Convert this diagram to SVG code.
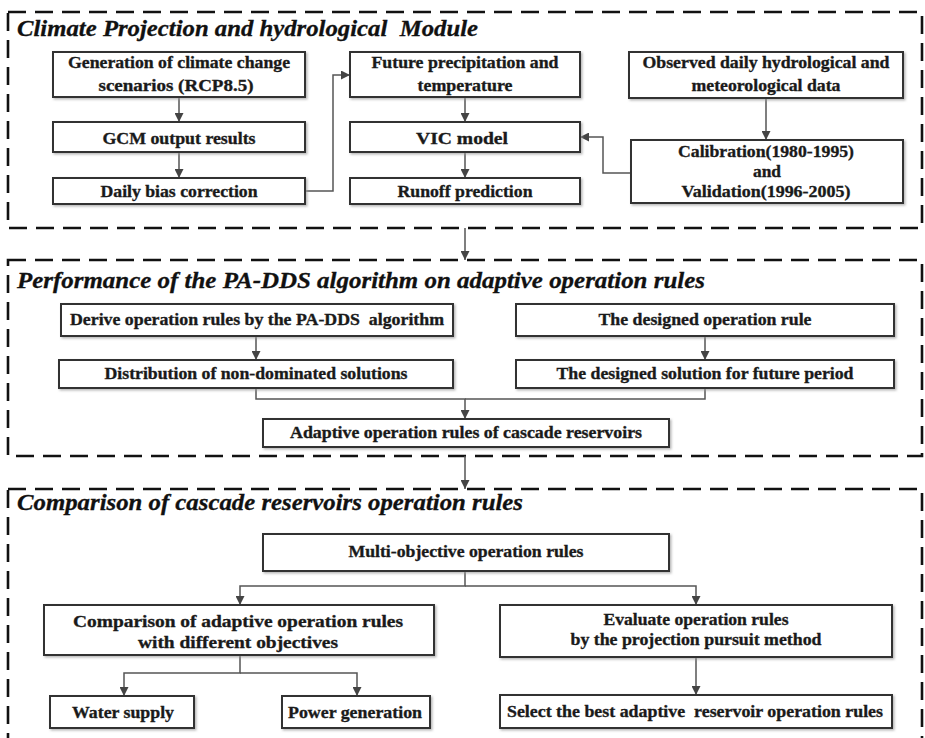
<svg xmlns="http://www.w3.org/2000/svg" width="925" height="738" viewBox="0 0 925 738">
<style>
.mod{fill:none;stroke:#111;stroke-width:2.6;stroke-dasharray:18 9}
.box{fill:#fff;stroke:#333;stroke-width:2;filter:url(#sh)}
.t{font-family:"Times New Roman","Liberation Serif",Tinos,serif;font-weight:bold;font-size:17.5px;fill:#1a1a1a;stroke:#1a1a1a;stroke-width:0.35;text-anchor:middle;white-space:pre}
.h{font-family:"Times New Roman","Liberation Serif",Tinos,serif;font-weight:bold;font-style:italic;font-size:23px;fill:#111;stroke:#111;stroke-width:0.3;white-space:pre}
.c{fill:none;stroke:#555;stroke-width:1.5}
.a{marker-end:url(#ah)}
</style>
<defs>
<filter id="sh" x="-5%" y="-20%" width="110%" height="140%">
<feDropShadow dx="1.5" dy="1.5" stdDeviation="1" flood-color="#999" flood-opacity="0.7"/>
</filter>
<marker id="ah" viewBox="0 0 10 10" refX="10" refY="5" markerUnits="userSpaceOnUse" markerWidth="10" markerHeight="9" orient="auto">
<path d="M0,0 L10,5 L0,10 Z" fill="#444"/>
</marker>
</defs>
<rect width="925" height="738" fill="#fff"/>

<g id="modules">
<rect class="mod" x="8" y="12" width="914" height="216"/>
<rect class="mod" x="8" y="260" width="914" height="196"/>
<rect class="mod" x="8" y="489" width="914" height="270"/>
<text class="h" x="17" y="36" textLength="461" lengthAdjust="spacingAndGlyphs" xml:space="preserve">Climate Projection and hydrological  Module</text>
<text class="h" x="17" y="288" textLength="688" lengthAdjust="spacingAndGlyphs">Performance of the PA-DDS algorithm on adaptive operation rules</text>
<text class="h" x="17" y="510" textLength="506" lengthAdjust="spacingAndGlyphs">Comparison of cascade reservoirs operation rules</text>
</g>

<g id="connectors">
<path class="c a" d="M179 97 V122"/>
<path class="c a" d="M179 152 V178"/>
<path class="c a" d="M305 191 H333 V75 H350"/>
<path class="c a" d="M465 97 V122"/>
<path class="c a" d="M465 152 V178"/>
<path class="c a" d="M766 98 V140"/>
<path class="c a" d="M631 173 H603 V137 H580"/>
<path class="c a" d="M465 228 V260"/>
<path class="c a" d="M256 336 V360"/>
<path class="c a" d="M705 336 V360"/>
<path class="c a" d="M256 388 V399 H465 V419"/>
<path class="c" d="M705 388 V399 H465"/>
<path class="c a" d="M465 456 V489"/>
<path class="c a" d="M465 571 V586 H240 V605"/>
<path class="c a" d="M465 586 H696 V605"/>
<path class="c a" d="M240 655 V673 H124 V696"/>
<path class="c a" d="M240 673 H357 V696"/>
<path class="c a" d="M696 657 V695"/>
</g>

<g id="n-gen"><rect class="box" x="53" y="52" width="252" height="45"/>
<text class="t" x="179" y="68" textLength="222" lengthAdjust="spacingAndGlyphs">Generation of climate change</text>
<text class="t" x="176" y="91" textLength="155" lengthAdjust="spacingAndGlyphs">scenarios (RCP8.5)</text></g>
<g id="n-gcm"><rect class="box" x="53" y="122" width="252" height="30"/>
<text class="t" x="179" y="144" textLength="153" lengthAdjust="spacingAndGlyphs">GCM output results</text></g>
<g id="n-bias"><rect class="box" x="53" y="178" width="252" height="26"/>
<text class="t" x="179" y="197" textLength="157" lengthAdjust="spacingAndGlyphs">Daily bias correction</text></g>
<g id="n-future"><rect class="box" x="350" y="52" width="230" height="45"/>
<text class="t" x="465" y="68" textLength="187" lengthAdjust="spacingAndGlyphs">Future precipitation and</text>
<text class="t" x="465" y="91" textLength="95" lengthAdjust="spacingAndGlyphs">temperature</text></g>
<g id="n-vic"><rect class="box" x="350" y="122" width="230" height="30"/>
<text class="t" x="462" y="144" textLength="92" lengthAdjust="spacingAndGlyphs">VIC model</text></g>
<g id="n-runoff"><rect class="box" x="350" y="178" width="230" height="26"/>
<text class="t" x="465" y="197" textLength="135" lengthAdjust="spacingAndGlyphs">Runoff prediction</text></g>
<g id="n-obs"><rect class="box" x="629" y="52" width="274" height="46"/>
<text class="t" x="766" y="68" textLength="247" lengthAdjust="spacingAndGlyphs">Observed daily hydrological and</text>
<text class="t" x="766" y="91" textLength="149" lengthAdjust="spacingAndGlyphs">meteorological data</text></g>
<g id="n-cal"><rect class="box" x="631" y="140" width="272" height="63"/>
<text class="t" x="766" y="157" textLength="176" lengthAdjust="spacingAndGlyphs">Calibration(1980-1995)</text>
<text class="t" x="767" y="177" textLength="28" lengthAdjust="spacingAndGlyphs">and</text>
<text class="t" x="766" y="197" textLength="169" lengthAdjust="spacingAndGlyphs">Validation(1996-2005)</text></g>

<g id="n-derive"><rect class="box" x="61" y="304" width="392" height="32"/>
<text class="t" x="257" y="325" textLength="374" lengthAdjust="spacingAndGlyphs" xml:space="preserve">Derive operation rules by the PA-DDS  algorithm</text></g>
<g id="n-dist"><rect class="box" x="59" y="360" width="394" height="28"/>
<text class="t" x="256" y="379" textLength="303" lengthAdjust="spacingAndGlyphs">Distribution of non-dominated solutions</text></g>
<g id="n-rule"><rect class="box" x="516" y="304" width="378" height="32"/>
<text class="t" x="705" y="325" textLength="213" lengthAdjust="spacingAndGlyphs">The designed operation rule</text></g>
<g id="n-sol"><rect class="box" x="516" y="360" width="378" height="28"/>
<text class="t" x="705" y="379" textLength="297" lengthAdjust="spacingAndGlyphs">The designed solution for future period</text></g>
<g id="n-adapt"><rect class="box" x="263" y="419" width="406" height="28"/>
<text class="t" x="466" y="438" textLength="352" lengthAdjust="spacingAndGlyphs">Adaptive operation rules of cascade reservoirs</text></g>

<g id="n-multi"><rect class="box" x="263" y="534" width="406" height="37"/>
<text class="t" x="466" y="557" textLength="235" lengthAdjust="spacingAndGlyphs">Multi-objective operation rules</text></g>
<g id="n-comp"><rect class="box" x="44" y="605" width="390" height="50"/>
<text class="t" x="238" y="627" textLength="330" lengthAdjust="spacingAndGlyphs">Comparison of adaptive operation rules</text>
<text class="t" x="238" y="648" textLength="200" lengthAdjust="spacingAndGlyphs">with different objectives</text></g>
<g id="n-eval"><rect class="box" x="500" y="605" width="392" height="52"/>
<text class="t" x="696" y="625" textLength="185" lengthAdjust="spacingAndGlyphs">Evaluate operation rules</text>
<text class="t" x="696" y="645" textLength="251" lengthAdjust="spacingAndGlyphs">by the projection pursuit method</text></g>
<g id="n-water"><rect class="box" x="50" y="696" width="144" height="32"/>
<text class="t" x="123" y="718" textLength="102" lengthAdjust="spacingAndGlyphs">Water supply</text></g>
<g id="n-power"><rect class="box" x="282" y="696" width="148" height="32"/>
<text class="t" x="355" y="718" textLength="134" lengthAdjust="spacingAndGlyphs">Power generation</text></g>
<g id="n-select"><rect class="box" x="500" y="695" width="392" height="33"/>
<text class="t" x="695" y="717" textLength="376" lengthAdjust="spacingAndGlyphs" xml:space="preserve">Select the best adaptive  reservoir operation rules</text></g>
</svg>
